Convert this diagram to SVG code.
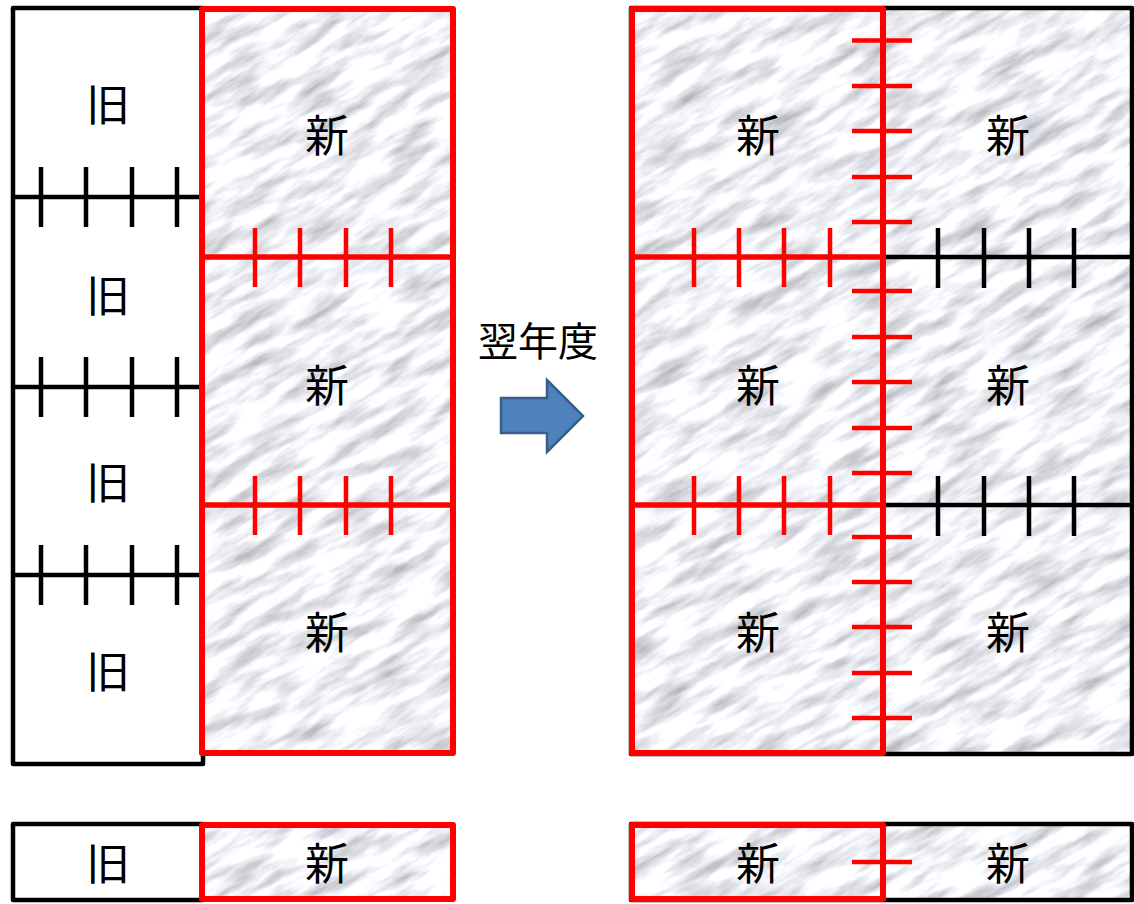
<svg xmlns="http://www.w3.org/2000/svg" width="1134" height="904" viewBox="0 0 1134 904">
<style>
.lbl{font-family:"Noto Sans CJK JP","Noto Sans CJK SC",sans-serif;font-size:44px;fill:#000;text-anchor:middle;dominant-baseline:central}
.title{font-family:"Noto Sans CJK JP","Noto Sans CJK SC",sans-serif;font-size:40px;fill:#000;text-anchor:middle;dominant-baseline:central}
.blk{fill:none;stroke:#000;stroke-width:4.5;stroke-linejoin:round}
.blkw{fill:#fff;stroke:#000;stroke-width:4.5;stroke-linejoin:round}
.red{fill:none;stroke:#ff0000;stroke-width:6;stroke-linejoin:round}
.marb{fill:url(#marble);stroke:none}
.bj{stroke:#000;stroke-width:4.5;fill:none}
.rj{stroke:#ff0000;stroke-width:5.5;fill:none}
.rt{stroke:#ff0000;stroke-width:4.5;fill:none}
</style>
<defs>
<filter id="noise" x="0" y="0" width="1" height="1" filterUnits="objectBoundingBox" color-interpolation-filters="sRGB">
<feTurbulence type="fractalNoise" baseFrequency="0.018 0.075" numOctaves="5" seed="7"/>
<feColorMatrix type="matrix" values="0.6 0 0 0 0.64  0.6 0 0 0 0.645  0.6 0 0 0 0.665  0 0 0 0 1"/>
</filter>
<pattern id="marble" patternUnits="userSpaceOnUse" x="0" y="0" width="1134" height="904">
<rect x="-700" y="-500" width="2600" height="1900" filter="url(#noise)" transform="rotate(-30 567 452)"/>
</pattern>
</defs>
<rect width="1134" height="904" fill="#fff"/>

<g id="old-column">
<rect class="blkw" x="13" y="8" width="190" height="756"/>
<text class="lbl" x="108" y="102">旧</text>
<text class="lbl" x="108" y="293">旧</text>
<text class="lbl" x="108" y="480">旧</text>
<text class="lbl" x="108" y="669">旧</text>
</g>

<g id="new-column-left">
<rect class="marb" x="202" y="9" width="251" height="744"/>
<text class="lbl" x="327" y="133">新</text>
<text class="lbl" x="327" y="383">新</text>
<text class="lbl" x="327" y="630">新</text>
</g>

<g id="next-year-right">
<rect class="marb" x="631" y="8" width="501" height="746"/>
<rect class="blk" x="631" y="8" width="501" height="746"/>
<text class="lbl" x="1008" y="133">新</text>
<text class="lbl" x="1008" y="383">新</text>
<text class="lbl" x="1008" y="630">新</text>
</g>

<g id="next-year-left">
<text class="lbl" x="758" y="133">新</text>
<text class="lbl" x="758" y="383">新</text>
<text class="lbl" x="758" y="630">新</text>
</g>

<g id="bottom-old">
<rect class="blkw" x="13" y="824" width="190" height="76"/>
<text class="lbl" x="108" y="861">旧</text>
</g>
<g id="bottom-new">
<rect class="marb" x="202" y="825" width="251" height="74"/>
<text class="lbl" x="327" y="861">新</text>
</g>
<g id="bottom-next-right">
<rect class="marb" x="631" y="824" width="501" height="76"/>
<rect class="blk" x="631" y="824" width="501" height="76"/>
<text class="lbl" x="1008" y="861">新</text>
</g>
<g id="bottom-next-left">
<text class="lbl" x="758" y="861">新</text>
</g>

<g id="connectors">
<path class="bj" d="M13 197H202M13 387H202M13 575H202"/>
<path class="bj" d="M41 167V227M86 167V227M132 167V227M177 167V227M41 357V417M86 357V417M132 357V417M177 357V417M41 545V605M86 545V605M132 545V605M177 545V605"/>
<path class="rj" d="M202 257H453M202 505H453"/>
<path class="rt" d="M255 228V287M300 228V287M346 228V287M391 228V287M255 476V535M300 476V535M346 476V535M391 476V535"/>
<path class="bj" d="M883 257H1132M883 505H1132"/>
<path class="bj" d="M938 228V288M984 228V288M1029 228V288M1074 228V288M938 476V536M984 476V536M1029 476V536M1074 476V536"/>
<path class="rj" d="M632 257H883M632 505H883"/>
<path class="rt" d="M694 228V287M739 228V287M784 228V287M830 228V287M694 476V535M739 476V535M784 476V535M830 476V535"/>
<path class="rt" d="M852 40.5H912M852 86H912M852 131H912M852 177H912M852 222H912M852 291H912M852 337H912M852 382H912M852 428H912M852 473H912M852 537H912M852 582H912M852 627H912M852 673H912M852 718H912M852 862H912"/>
</g>

<g id="red-frames">
<rect class="red" x="202" y="9" width="251" height="744"/>
<rect class="red" x="632" y="9" width="251" height="744"/>
<rect class="red" x="202" y="825" width="251" height="74"/>
<rect class="red" x="632" y="825" width="251" height="74"/>
</g>

<g id="transition">
<text class="title" x="538" y="339">翌年度</text>
<polygon points="501,398 547,398 547,380 583,416 547,452 547,433 501,433" fill="#4f81bd" stroke="#385d8a" stroke-width="2.5" stroke-linejoin="miter"/>
</g>
</svg>
